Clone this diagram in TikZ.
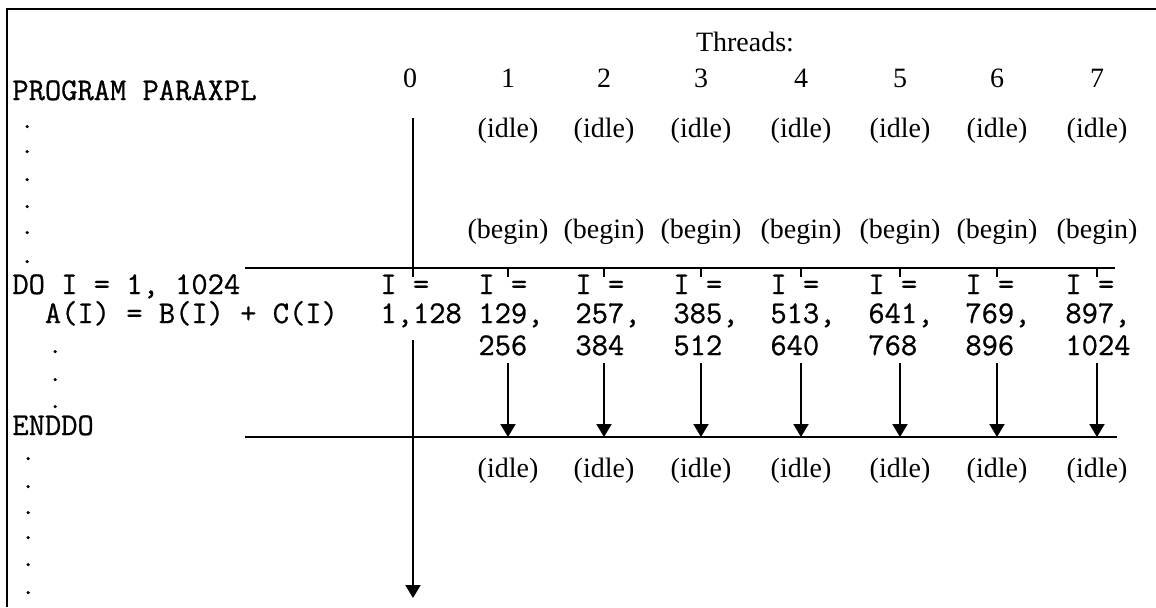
\documentclass[tikz,border=0pt]{standalone}
\usepackage{fontspec}
\setmainfont{Liberation Serif}
\newfontfamily\codefont[FakeBold=0.8]{Latin Modern Mono}
\newfontfamily\dotfont[FakeBold=2]{Latin Modern Mono}
\usetikzlibrary{arrows.meta}
\begin{document}
\begin{tikzpicture}[x=0.5pt,y=-0.5pt,
  code/.style={anchor=base west,inner sep=0pt,font=\codefont\fontsize{15.8}{18}\selectfont},
  elide/.style={anchor=base west,inner sep=0pt,font=\dotfont\fontsize{11}{12}\selectfont},
  lbl/.style={anchor=base,inner sep=0pt,font=\fontsize{14}{17}\selectfont},
  num/.style={anchor=base,inner sep=0pt,font=\fontsize{14}{17}\selectfont},
  rule/.style={line width=1pt},
  flow/.style={line width=1pt,-{Triangle[width=7.5pt,length=6.5pt]}},
]
\useasboundingbox (0,0) rectangle (1156,607);
% frame (top and left edges only)
\draw[line width=1.3pt] (7,607) -- (7,9) -- (1156,9);

% source listing
\node[code] (prog) at (12,100) {PROGRAM PARAXPL};
\foreach \y [count=\k] in {128,153,181,208,234,263}
  \node[elide] (da\k) at (21,\y) {.};
\node[code] (do) at (12,294) {DO I = 1, 1024};
\node[code] (stmt) at (12,323) {\ \ A(I) = B(I) + C(I)};
\foreach \y [count=\k] in {353,381,408}
  \node[elide] (db\k) at (49,\y) {.};
\node[code] (enddo) at (12,435) {ENDDO};
\foreach \y [count=\k] in {460,488,514,539,566,594}
  \node[elide] (dc\k) at (22,\y) {.};

% header
\node[lbl] (threads) at (745,51) {Threads:};

% thread 0 (master)
\node[num] (t0) at (410,87) {0};
\node[code] (ia0) at (380,294) {I =};
\node[code] (ib0) at (380,323) {1,128};
\coordinate (m0) at (413,118);
\coordinate (m1) at (413,277);
\coordinate (m2) at (413,340);
\coordinate (m3) at (413,598);
\draw[rule] (m0) -- (m1);
\draw[flow] (m2) -- (m3);

% worker threads 1..7
\foreach \i/\x/\lx/\a/\b in {1/508/478/{129,}/256, 2/604/575/{257,}/384,
    3/701/673/{385,}/512, 4/801/770/{513,}/640, 5/900/868/{641,}/768,
    6/997/965/{769,}/896, 7/1097/1065/{897,}/1024}{
  \node[num] (t\i) at (\x,87) {\i};
  \node[lbl] (idle\i) at (\x,137) {(idle)};
  \node[lbl] (begin\i) at (\x,238) {(begin)};
  \node[code] (ia\i) at (\lx,294) {I =};
  \node[code] (ib\i) at (\lx,323) {\a};
  \node[code] (ic\i) at (\lx,355) {\b};
  \node[lbl] (done\i) at (\x,477) {(idle)};
  \coordinate (k\i) at (\x,268);
  \coordinate (kk\i) at (\x,277);
  \coordinate (s\i) at (\x,363);
  \coordinate (e\i) at (\x,437);
  \draw[rule] (k\i) -- (kk\i);
  \draw[flow] (s\i) -- (e\i);
}

% fork and join bars
\coordinate (fa) at (245,268);
\coordinate (fb) at (1115,268);
\coordinate (ja) at (245,437);
\coordinate (jb) at (1117,437);
\draw[rule] (fa) -- (fb);
\draw[rule] (ja) -- (jb);
\end{tikzpicture}
\end{document}
